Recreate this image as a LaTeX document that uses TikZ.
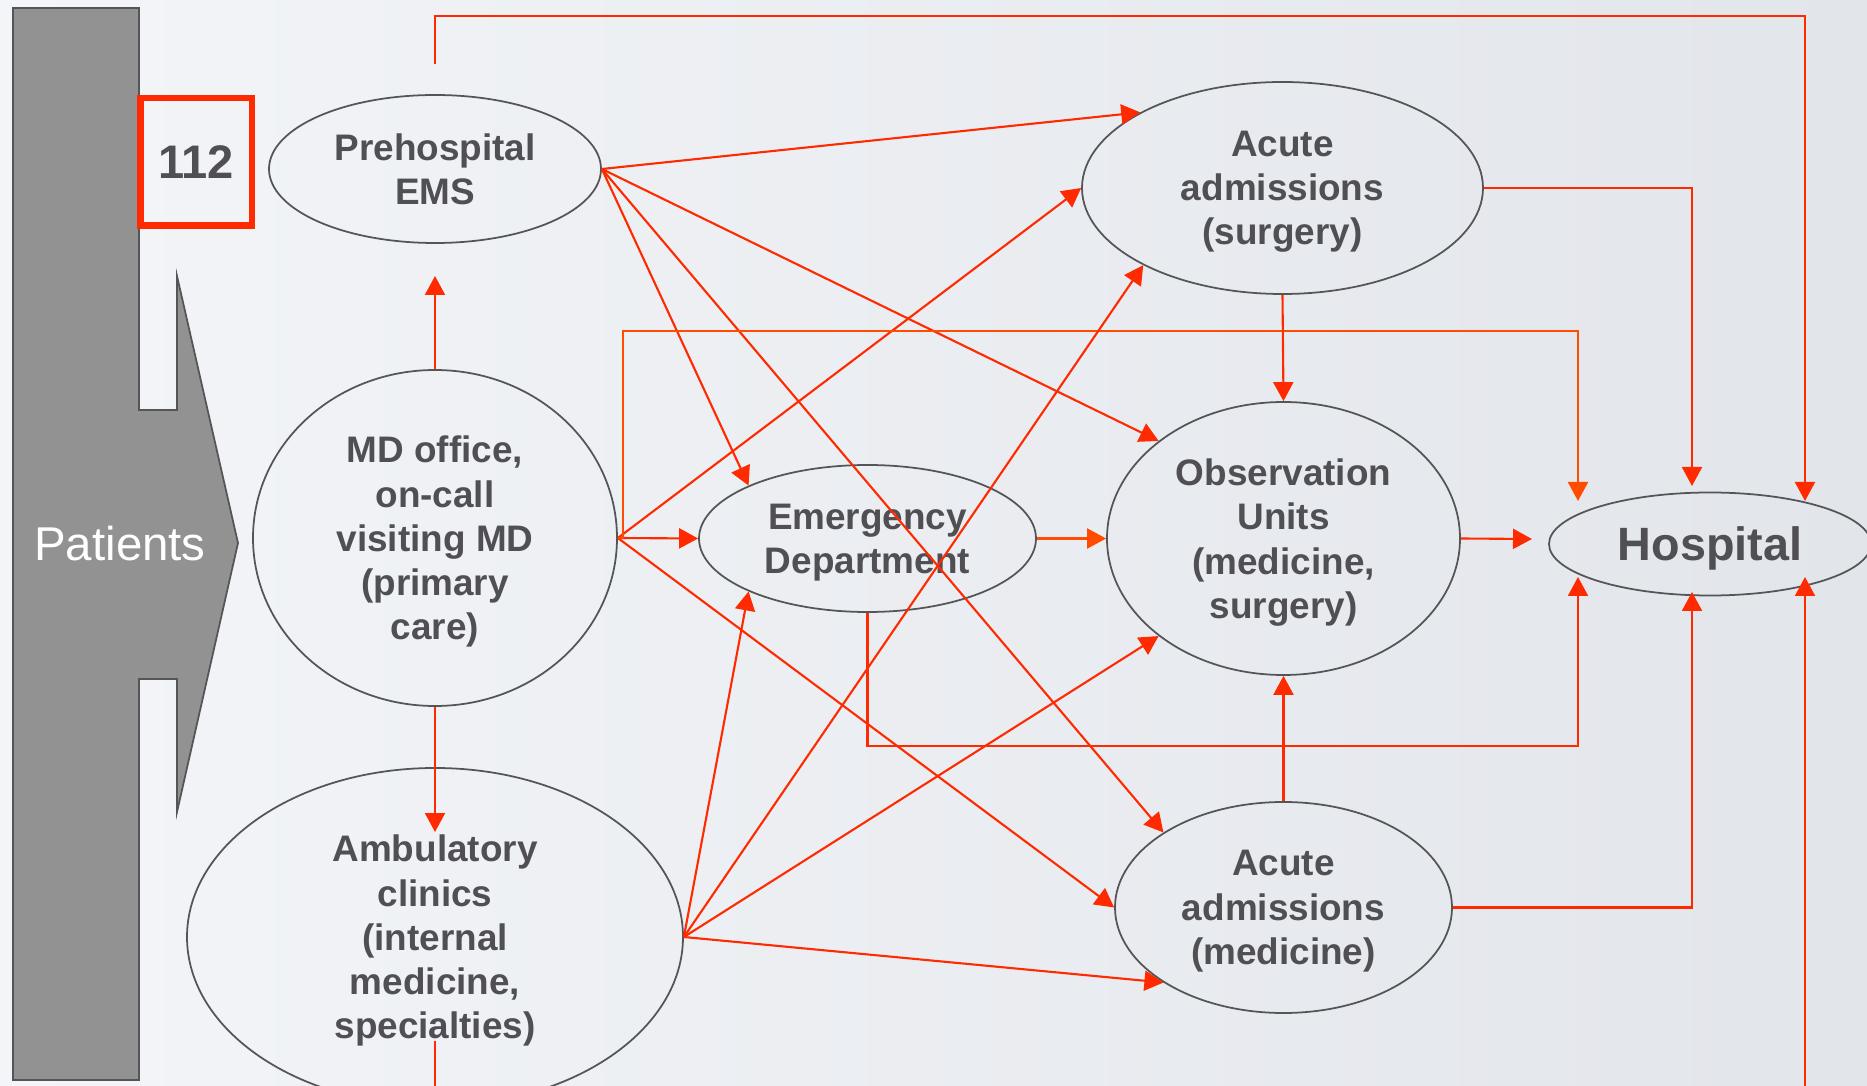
\documentclass[tikz,border=0pt]{standalone}
\usepackage{fontspec}
\setmainfont{Liberation Sans}
\usepackage{xcolor}
\usetikzlibrary{shapes.geometric,arrows.meta}

\definecolor{flowred}{RGB}{255,42,0}
\definecolor{floworange}{RGB}{255,76,0}
\definecolor{textgray}{RGB}{80,80,84}
\definecolor{rimgray}{RGB}{85,85,88}
\definecolor{bargray}{RGB}{146,146,146}
\definecolor{bgleft}{RGB}{243,245,248}
\definecolor{bgright}{RGB}{226,229,234}

\begin{document}
\begin{tikzpicture}[
	unit/.style={ellipse, draw=rimgray, line width=0.5pt, inner sep=0pt, align=center, text depth=0pt,
		text=textgray, font=\fontsize{10.5}{12.6}\selectfont\bfseries},
	flow/.style={draw=flowred, line width=0.6pt, -{Triangle[length=1.9mm,width=2mm]}},
	floworng/.style={flow, draw=floworange},
]
	% Parameters
	\def\picw{18.67}
	\def\pich{10.86}
	\def\midx{4.35}

	%frame
	\useasboundingbox (0,0) rectangle (\picw,-\pich);
	\clip (0,0) rectangle (\picw,-\pich);
	\shade[left color=bgleft, right color=bgright] (0,0) rectangle (\picw,-\pich);

	%patients
	\draw[fill=bargray, draw=rimgray, line width=0.5pt] (0.13,-0.08) -- (1.39,-0.08) -- (1.39,-4.10) -- (1.77,-4.10) -- (1.77,-2.76)
		-- (2.38,-5.43) -- (1.77,-8.12) -- (1.77,-6.79) -- (1.39,-6.79) -- (1.39,-10.80) -- (0.13,-10.80) -- cycle;
	\node[text=white, font=\fontsize{13.5}{16}\selectfont] (pat) at (1.20,-5.44) {Patients};
	\node[draw=flowred, line width=1.85pt, minimum width=1.115cm, minimum height=1.275cm, inner sep=0pt,
		text=textgray, font=\fontsize{13.4}{15}\selectfont\bfseries] (call) at (1.96,-1.62) {112};

	%units
	\node[unit, minimum width=3.32cm, minimum height=1.48cm] (ems) at (\midx,-1.69) {Prehospital\\EMS};
	\node[unit, minimum width=3.64cm, minimum height=3.36cm] (md) at (\midx,-5.38) {MD office,\\on-call\\visiting MD\\(primary\\care)};
	\node[unit, minimum width=4.96cm, minimum height=3.38cm] (amb) at (\midx,-9.37) {Ambulatory\\clinics\\(internal\\medicine,\\specialties)};
	\node[unit, minimum width=3.37cm, minimum height=1.47cm] (ed) at (8.675,-5.385) {Emergency\\Department};
	\node[unit, minimum width=4.01cm, minimum height=2.12cm] (surg) at (12.825,-1.88) {Acute\\admissions\\(surgery)};
	\node[unit, minimum width=3.53cm, minimum height=2.73cm] (obs) at (12.835,-5.385) {Observation\\Units\\(medicine,\\surgery)};
	\node[unit, minimum width=3.37cm, minimum height=2.11cm] (med) at (12.835,-9.075) {Acute\\admissions\\(medicine)};
	\node[unit, minimum width=3.22cm, minimum height=1.03cm, font=\fontsize{13.3}{16}\selectfont\bfseries] (hosp) at (17.10,-5.44) {Hospital};

	%free ends
	\coordinate (emstop) at (\midx,-0.64);
	\coordinate (emsup) at (\midx,-0.16);
	\coordinate (emsin) at (\midx,-2.76);
	\coordinate (ambin) at (\midx,-8.32);
	\coordinate (ambout) at (\midx,-10.41);
	\coordinate (ambdown) at (\midx,-11.20);
	\coordinate (mdbus) at (6.23,-3.31);
	\coordinate (edbus) at (15.78,-7.46);
	\coordinate (hin1) at (15.78,-5.01);
	\coordinate (hin2) at (15.78,-5.77);
	\coordinate (hin3) at (15.32,-5.39);
	\coordinate (hin4) at (16.92,-4.86);
	\coordinate (hin5) at (16.92,-5.92);
	\coordinate (hin6) at (18.05,-5.01);
	\coordinate (hin7) at (18.05,-5.77);

	%flows
	\draw[flow] (emstop) -- (emsup) -| (hin6);
	\draw[flow] (md.north) -- (emsin);
	\draw[flow] (md.south) -- (ambin);
	\draw[flow] (ambout) -- (ambdown) -| (hin7);
	\foreach \dest in {surg.152, ed.156, obs.142, med.148}
		\draw[flow] (ems.east) -- (\dest);
	\foreach \dest in {surg.west, ed.west, med.west}
		\draw[flow] (md.east) -- (\dest);
	\draw[floworng] (md.east) -| (mdbus) -| (hin1);
	\draw[floworng] (ed.east) -- (obs.west);
	\draw[flow] (ed.south) |- (edbus) -- (hin2);
	\draw[flow] (obs.east) -- (hin3);
	\draw[flow] (surg.south) -- (obs.north);
	\draw[flow] (surg.east) -| (hin4);
	\draw[flow] (med.north) -- (obs.south);
	\draw[flow] (med.east) -| (hin5);
	\foreach \dest in {ed.204, surg.209, obs.218, med.212}
		\draw[flow] (amb.east) -- (\dest);
\end{tikzpicture}
\end{document}
